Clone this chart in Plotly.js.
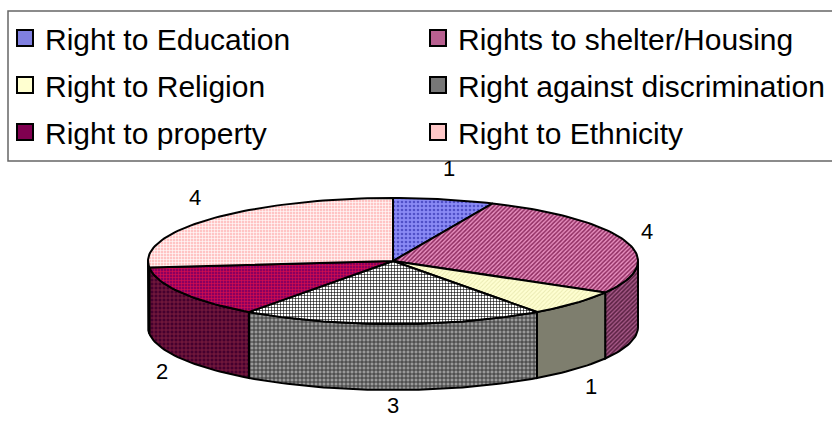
<!DOCTYPE html>
<html>
<head>
<meta charset="utf-8">
<script src="https://cdn.plot.ly/plotly-3.0.1.min.js"></script>
<style>html,body{margin:0;padding:0;background:#fff;}</style>
</head>
<body>
<div id="chart" style="width:832px;height:422px"></div>
<script>
// ---- data ----
const categories = ['Right to Education','Rights to shelter/Housing','Right to Religion','Right against discrimination','Right to property','Right to Ethnicity'];
const values = [1, 4, 1, 3, 2, 4];

// ---- styles ----
const topBg   = ['#8a8af5','#e890c0','#ffffd2','#ffffff','#8a0060','#ffc4c4'];
const topFg   = ['#5050c8','#8e2c60','#e8e8b0','#000000','#e0104a','#ffffff'];
const topPat  = ['.','/','/','+','+','+'];
const topSol  = [0.35, 0.5, 0.3, 0.35, 0.35, 0.35];
const wallBg  = ['#4a4a90','#5e2446','#7e7e6e','#9a9a9a','#45002e','#a07070'];
const wallFg  = ['#2a2a60','#b06090','#7a7a6a','#303030','#802040','#c09090'];
const wallPat = ['.','/','','+','+','+'];
const legendColors = ['#8080e0','#b86090','#ffffd0','#777777','#800050','#ffc8c8'];

// ---- geometry (3-D pie projection) ----
const W = 832, H = 422;
const CX = 393, CY = 261, RX = 245, RY = 63, DEPTH = 66;
const GX = 15, GY_UP = 22, GY_DN = 16;
const total = values.reduce((a, b) => a + b, 0);
function pt(deg, dy) {
  const r = deg * Math.PI / 180;
  return [CX + RX * Math.sin(r), CY - RY * Math.cos(r) + (dy || 0)];
}
function arc(a0, a1, dy) {
  const n = Math.max(2, Math.ceil(Math.abs(a1 - a0) / 1.5));
  const out = [];
  for (let i = 0; i <= n; i++) out.push(pt(a0 + (a1 - a0) * i / n, dy));
  return out;
}

const traces = [];
const walls = [], tops = [];
let acc = 0;
const angles = values.map(v => { const a0 = acc / total * 360; acc += v; return [a0, acc / total * 360]; });

angles.forEach(([a0, a1], i) => {
  const lo = Math.max(a0, 90), hi = Math.min(a1, 270);
  if (hi > lo) {
    const p = arc(lo, hi, 0).concat(arc(hi, lo, DEPTH));
    p.push(p[0]);
    walls.push({
      type: 'scatter', mode: 'lines', x: p.map(q => q[0]), y: p.map(q => q[1]),
      fill: 'toself', fillcolor: wallBg[i],
      fillpattern: wallPat[i] ? {shape: wallPat[i], bgcolor: wallBg[i], fgcolor: wallFg[i], size: wallPat[i] === '/' ? 3 : 4, solidity: 0.4} : undefined,
      line: {color: '#000', width: 2}, hoverinfo: 'skip', showlegend: false
    });
  }
  const t = [[CX, CY]].concat(arc(a0, a1, 0));
  t.push([CX, CY]);
  tops.push({
    type: 'scatter', mode: 'lines', x: t.map(q => q[0]), y: t.map(q => q[1]),
    fill: 'toself', fillcolor: topBg[i],
    fillpattern: {shape: topPat[i], bgcolor: topBg[i], fgcolor: topFg[i], size: topPat[i] === '.' ? 4 : 3, solidity: topSol[i]},
    line: {color: '#000', width: 2}, hoverinfo: 'skip', showlegend: false,
    name: categories[i]
  });
});
traces.push(...walls, ...tops);

// legend entries: one legend per entry, laid out in 2 columns x 3 rows
const legendFont = {family: 'Liberation Sans, Arial, sans-serif', size: 30, color: '#000'};
const colX = [5, 418];
const rowY = [38, 85, 132];
const legends = {};
categories.forEach((c, i) => {
  const key = i === 0 ? 'legend' : 'legend' + (i + 1);
  legends[key] = {
    x: colX[i % 2] / W, y: 1 - rowY[Math.floor(i / 2)] / H,
    xanchor: 'left', yanchor: 'middle', font: legendFont,
    bgcolor: 'rgba(0,0,0,0)', borderwidth: 0
  };
  traces.push({
    type: 'scatter', mode: 'markers', x: [null], y: [null], name: c, legend: key,
    marker: {symbol: 'square', size: 16, color: legendColors[i], line: {color: '#000', width: 2}},
    showlegend: true, hoverinfo: 'skip'
  });
});

// data labels
const annotations = angles.map(([a0, a1], i) => {
  const m = (a0 + a1) / 2 * Math.PI / 180;
  const s = Math.sin(m), c = Math.cos(m);
  const y = c >= 0 ? CY - (RY + GY_UP + 10) * c : CY - (RY + GY_DN + 10) * c + DEPTH;
  return {
    x: CX + (RX + GX + 7) * s,
    y: Math.min(y, H - 17),
    xref: 'x', yref: 'y', text: String(values[i]), showarrow: false,
    font: {family: 'Liberation Sans, Arial, sans-serif', size: 22, color: '#000'},
    xanchor: 'center', yanchor: 'middle', borderpad: 0
  };
});

const layout = Object.assign({
  width: W, height: H,
  margin: {l: 0, r: 0, t: 0, b: 0, pad: 0},
  paper_bgcolor: '#fff', plot_bgcolor: '#fff',
  xaxis: {range: [0, W], visible: false, fixedrange: true},
  yaxis: {range: [H, 0], visible: false, fixedrange: true},
  showlegend: true,
  shapes: [{
    type: 'rect', xref: 'x', yref: 'y', x0: 8, x1: W + 13, y0: 11, y1: 161,
    line: {color: '#666', width: 1.5}, fillcolor: 'rgba(0,0,0,0)', layer: 'below'
  }],
  annotations: annotations
}, legends);

Plotly.newPlot('chart', traces, layout, {staticPlot: true, displayModeBar: false});
</script>
</body>
</html>
